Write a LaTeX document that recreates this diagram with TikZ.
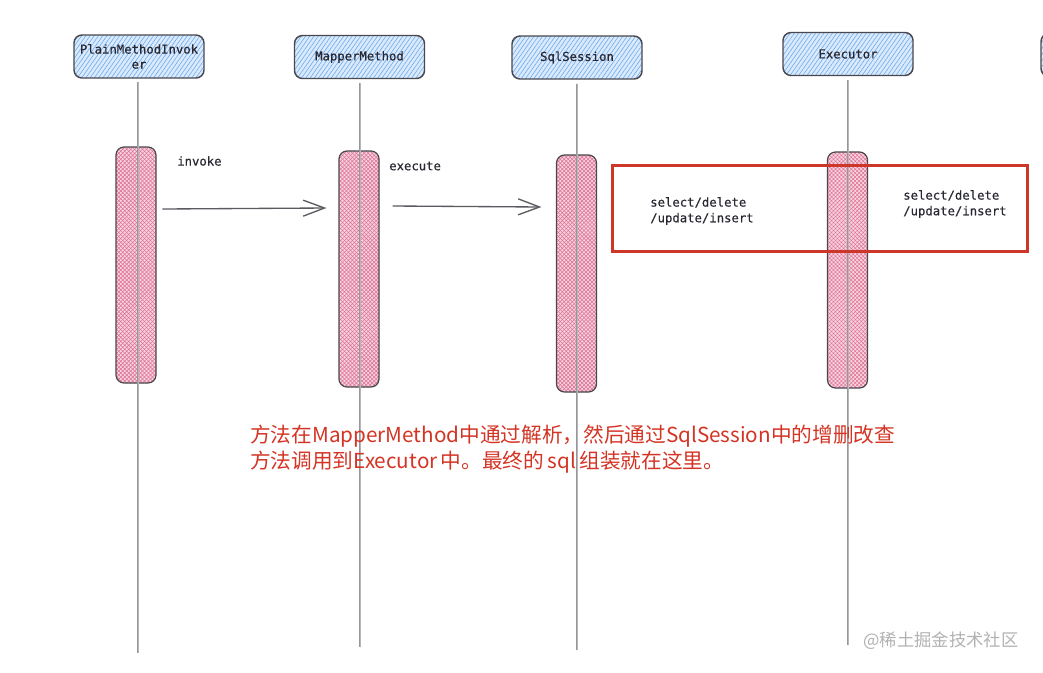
\documentclass[tikz,border=0pt]{standalone}
\usepackage{fontspec}
\newfontfamily\codefont{DejaVu Sans Mono}[FakeBold=0.4]
\newfontfamily\cjk{Noto Sans CJK SC}
\usetikzlibrary{patterns.meta,arrows.meta,calc}
\definecolor{strokec}{RGB}{72,72,78}
\definecolor{hdrbg}{RGB}{218,234,253}
\definecolor{hdrline}{RGB}{112,170,234}
\definecolor{pinkbg}{RGB}{248,212,224}
\definecolor{pinkline}{RGB}{220,110,145}
\definecolor{redc}{RGB}{205,55,40}
\definecolor{redtxt}{RGB}{212,52,36}
\definecolor{txtc}{RGB}{40,40,50}
\definecolor{lifec}{RGB}{150,150,155}
\definecolor{wmc}{RGB}{178,178,178}
\tikzset{
  hdr/.style={draw=strokec, line width=1.1pt, rounded corners=6pt,
    minimum width=97.5pt, minimum height=32.25pt, inner sep=0pt,
    preaction={fill=hdrbg},
    pattern={Lines[angle=55,distance=2.6pt,line width=0.45pt]}, pattern color=hdrline,
    font=\codefont\fontsize{9.2}{11.25}\selectfont, text=txtc, align=center},
  activ/.style={draw=strokec, line width=0.9pt, rounded corners=6pt,
    minimum width=30pt, inner sep=0pt,
    preaction={fill=pinkbg},
    preaction={pattern={Lines[angle=45,distance=2.1pt,line width=0.4pt]}, pattern color=pinkline},
    pattern={Lines[angle=-45,distance=2.1pt,line width=0.4pt]}, pattern color=pinkline},
  life/.style={draw=lifec, line width=0.55pt},
  msg/.style={draw=strokec!90, line width=1.0pt, -{Straight Barb[length=16pt,width=12pt,line width=1pt]}},
  lbl/.style={inner sep=0pt, anchor=west, text=txtc, font=\codefont\fontsize{9.2}{11.75}\selectfont, align=left},
  redbox/.style={draw=redc, line width=2.3pt, minimum width=311.25pt, minimum height=64.5pt, inner sep=0pt},
  note/.style={inner sep=0pt, anchor=west, text=redtxt, font=\cjk\fontsize{15.5}{19.5}\selectfont, align=left},
  wm/.style={inner sep=0pt, anchor=west, text=wmc, font=\cjk\fontsize{13}{15}\selectfont}
}
\begin{document}
\begin{tikzpicture}[x=0.75pt,y=-0.75pt]
\path[use as bounding box] (0,0) rectangle (1043,672);
\clip (0,0) rectangle (1043,672);
\fill[white] (0,0) rectangle (1043,672);

% headers
\node[hdr] (H1) at (139,56.5) {PlainMethodInvok\\er};
\node[hdr] (H2) at (359.5,57) {MapperMethod};
\node[hdr] (H3) at (577,57.5) {SqlSession};
\node[hdr] (H4) at (848,54) {Executor};
\node[hdr] (H5) at (1106,55) {};

% activation boxes
\node[activ, minimum height=177pt] (A1) at (136,265) {};
\node[activ, minimum height=177pt] (A2) at (359,269) {};
\node[activ, minimum height=177.75pt] (A3) at (576.5,273.5) {};
\node[activ, minimum height=177pt] (A4) at (847.5,270) {};

% lifelines
\coordinate (L1) at (137,653);
\coordinate (L2) at (359,647);
\coordinate (L3) at (576,650);
\coordinate (L4) at (847,645);
\draw[life] ([yshift=-3pt]H1.south -| L1) -- (L1);
\draw[life, lifec!70] ([shift={(1.5,4)}]H1.south -| L1) -- ([xshift=1.5*0.75pt]L1);
\draw[life] ([yshift=-3pt]H2.south -| L2) -- (L2);
\draw[life, lifec!70] ([shift={(1.4,4)}]H2.south -| L2) -- ([xshift=1.05pt]L2);
\draw[life] ([yshift=-3pt]H3.south -| L3) -- (L3);
\draw[life, lifec!70] ([shift={(1.5,4)}]H3.south -| L3) -- ([xshift=1.1pt]L3);
\draw[life] ([yshift=-3pt]H4.south -| L4) -- (L4);
\draw[life, lifec!70] ([shift={(1.5,4)}]H4.south -| L4) -- ([xshift=1.1pt]L4);

% messages
\draw[msg] ([shift={(6,-56)}]A1.east) -- ([shift={(-12,-61)}]A2.west);
\draw[msg] ([shift={(13,-63)}]A2.east) -- ([shift={(-14.5,-66.5)}]A3.west);
\node[lbl] (invk) at (177,161) {invoke};
\node[lbl] (exec) at (389,166) {execute};

% highlighted operations
\node[redbox] (R) at (820,208.5) {};
\node[lbl] (op1) at (650,211) {select/delete\\/update/insert};
\node[lbl] (op2) at (903,204) {select/delete\\/update/insert};

% note
\node[note] (N) at (250,449) {方法在MapperMethod中通过解析，然后通过SqlSession中的增删改查\\方法调用到Executor\,中。最终的\,sql\,组装就在这里。};

% watermark
\node[wm] (W) at (863,641) {@稀土掘金技术社区};
\end{tikzpicture}
\end{document}
